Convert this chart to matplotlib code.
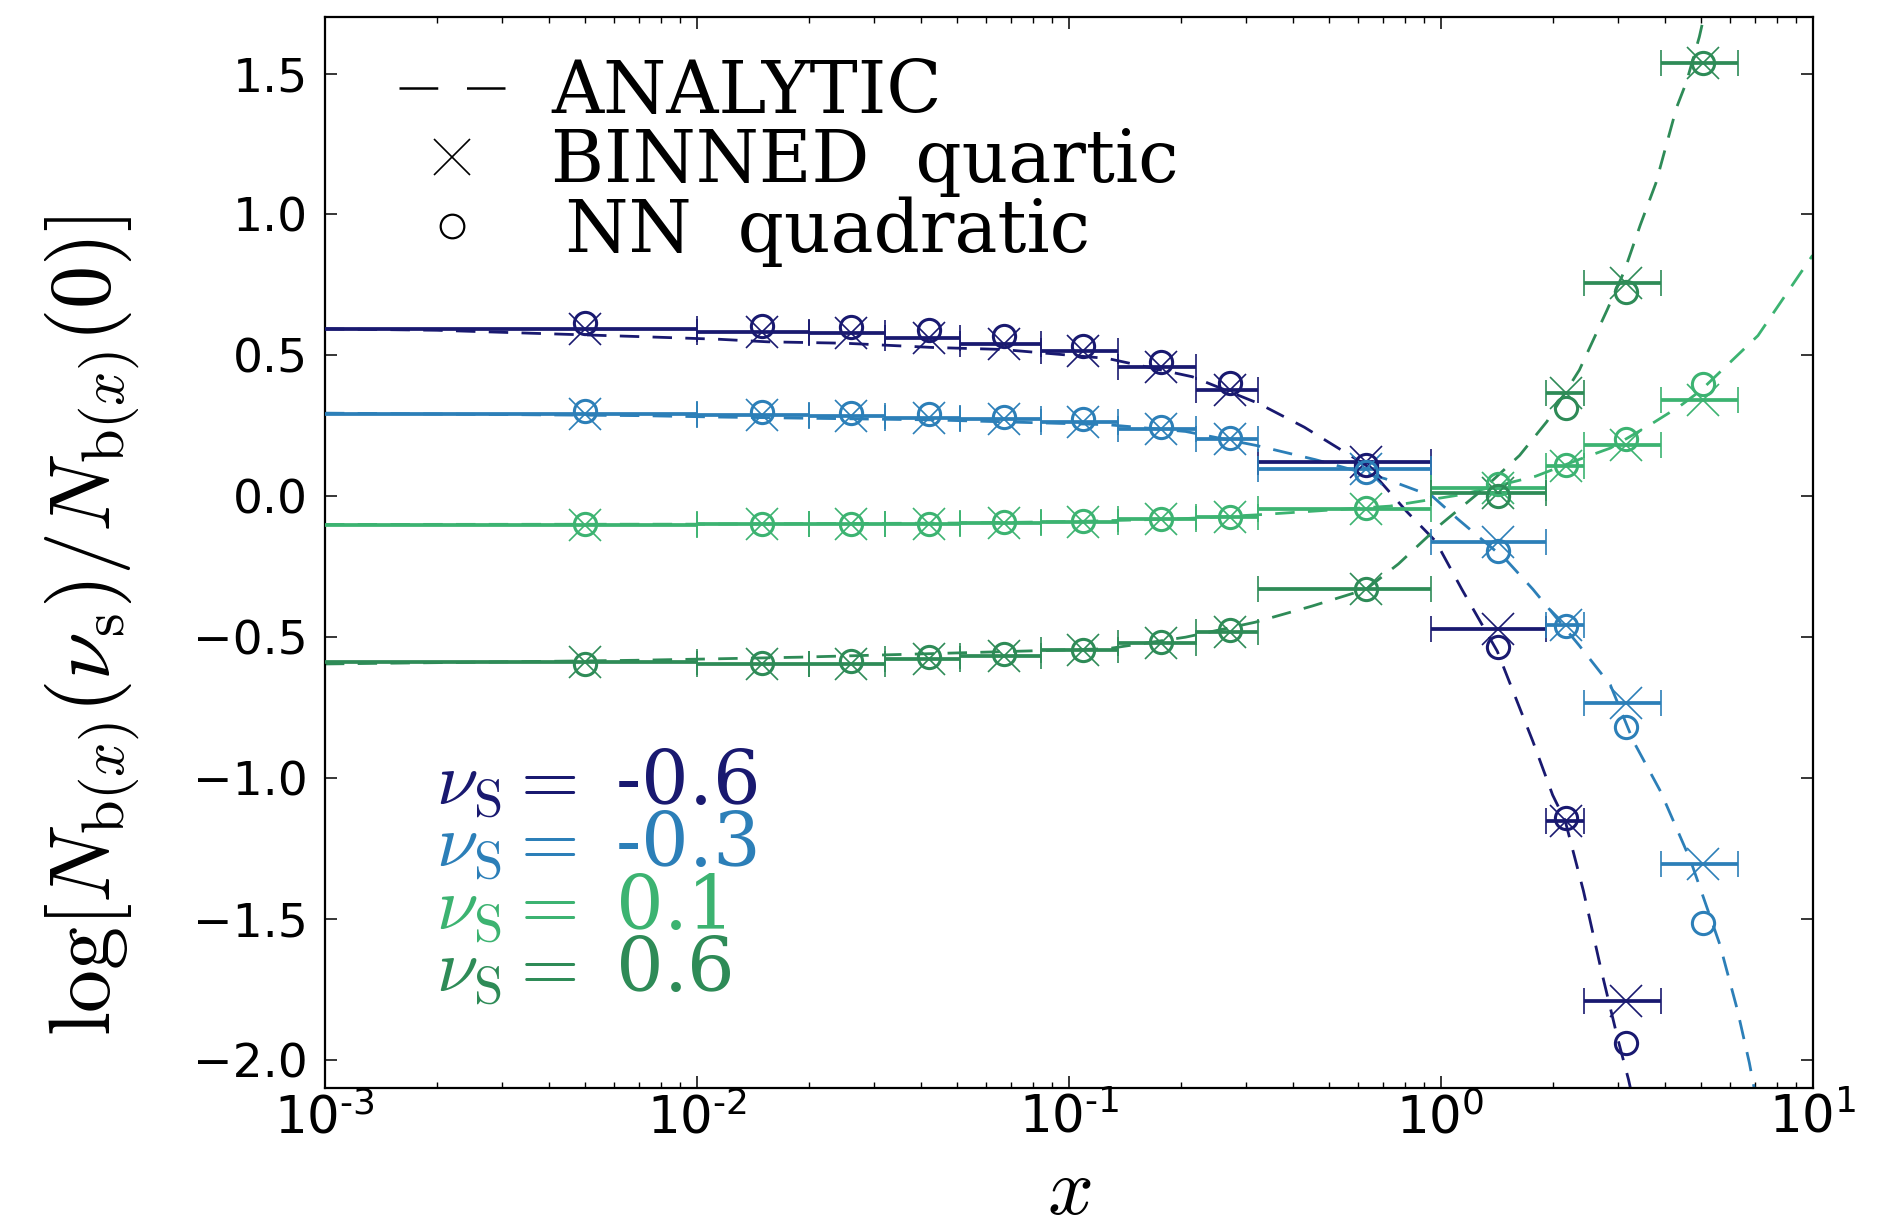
import numpy as np
import matplotlib
matplotlib.use("Agg")
import matplotlib.pyplot as plt
from matplotlib.lines import Line2D
from matplotlib.ticker import FuncFormatter, LogLocator, FixedLocator

# ---------------- data ----------------
nu_values = ["-0.6", "-0.3", "0.1", "0.6"]
colors = ["#191970", "#2c7fb8", "#3cb371", "#2e8b57"]

# bin edges and bin centres (x)
bin_lo = [0.0, 0.01, 0.02, 0.032, 0.051, 0.084, 0.136, 0.22, 0.322, 0.94, 1.92, 2.43, 3.92]
bin_hi = [0.01, 0.02, 0.032, 0.051, 0.084, 0.136, 0.22, 0.322, 0.94, 1.92, 2.43, 3.92, 6.3]
bin_x = [0.005, 0.015, 0.026, 0.042, 0.067, 0.109, 0.177, 0.271, 0.63, 1.43, 2.17, 3.15, 5.08]

# BINNED quartic values (crosses with x-error bars)
binned_m06 = [0.592, 0.582, 0.578, 0.562, 0.542, 0.515, 0.457, 0.377, 0.12, -0.472, -1.153, -1.79]
binned_m03 = [0.293, 0.289, 0.285, 0.279, 0.274, 0.265, 0.238, 0.203, 0.095, -0.162, -0.455, -0.733, -1.305]
binned_p01 = [-0.101, -0.100, -0.099, -0.098, -0.094, -0.090, -0.082, -0.074, -0.044, 0.03, 0.109, 0.183, 0.342]
binned_p06 = [-0.588, -0.594, -0.595, -0.578, -0.565, -0.547, -0.52, -0.483, -0.33, 0.012, 0.366, 0.755, 1.538]

# NN quadratic values (circles)
nn_m06 = [0.613, 0.604, 0.599, 0.59, 0.57, 0.534, 0.478, 0.403, 0.112, -0.535, -1.14, -1.94]
nn_m03 = [0.301, 0.300, 0.295, 0.292, 0.283, 0.274, 0.245, 0.206, 0.086, -0.194, -0.46, -0.819, -1.513]
nn_p01 = [-0.100, -0.100, -0.099, -0.097, -0.093, -0.089, -0.081, -0.073, -0.042, 0.042, 0.11, 0.203, 0.398]
nn_p06 = [-0.595, -0.591, -0.583, -0.57, -0.561, -0.544, -0.518, -0.475, -0.33, 0.0, 0.313, 0.725, 1.538]

# ANALYTIC curves (dashed)
an_x_m06 = [0.001, 0.002, 0.0072, 0.0115, 0.0155, 0.025, 0.043, 0.066, 0.127, 0.215, 0.323,
            0.43, 0.63, 0.81, 0.97, 1.14, 1.42, 1.77, 2.0, 2.16, 2.42, 2.7, 3.0, 3.2, 3.3]
an_y_m06 = [0.594, 0.589, 0.566, 0.557, 0.548, 0.543, 0.528, 0.521, 0.489, 0.424, 0.33,
            0.245, 0.11, -0.054, -0.16, -0.33, -0.55, -0.87, -1.06, -1.15, -1.4, -1.68, -1.93, -2.07, -2.15]
an_x_m03 = [0.001, 0.0071, 0.0115, 0.043, 0.127, 0.206, 0.32, 0.46, 0.71, 0.95, 1.11, 1.5,
            1.77, 2.36, 2.86, 3.3, 3.9, 4.69, 5.63, 6.27, 6.76, 7.2]
an_y_m03 = [0.295, 0.286, 0.281, 0.271, 0.254, 0.23, 0.18, 0.13, 0.062, 0.0, -0.08, -0.226,
            -0.33, -0.53, -0.67, -0.87, -1.047, -1.29, -1.59, -1.82, -2.01, -2.2]
an_x_p01 = [0.001, 0.01, 0.05, 0.1, 0.2, 0.32, 0.73, 1.14, 1.8, 2.35, 2.86, 3.66, 4.4, 5.0, 7.13, 10.0]
an_y_p01 = [-0.1, -0.099, -0.095, -0.09, -0.08, -0.066, -0.035, 0.006, 0.071, 0.13, 0.171,
            0.254, 0.32, 0.375, 0.57, 0.855]
an_x_p06 = [0.001, 0.0068, 0.011, 0.0188, 0.041, 0.127, 0.206, 0.317, 0.45, 0.63, 0.77, 1.0,
            1.3, 1.63, 1.93, 2.36, 2.8, 3.12, 3.44, 3.79, 4.04, 4.31, 4.58, 4.96, 5.2]
an_y_p06 = [-0.595, -0.582, -0.577, -0.571, -0.559, -0.541, -0.5, -0.447, -0.39, -0.33, -0.24, -0.1,
            0.025, 0.145, 0.265, 0.448, 0.66, 0.8, 0.962, 1.111, 1.245, 1.38, 1.47, 1.63, 1.75]

binned = [binned_m06, binned_m03, binned_p01, binned_p06]
nn = [nn_m06, nn_m03, nn_p01, nn_p06]
an_x = [an_x_m06, an_x_m03, an_x_p01, an_x_p06]
an_y = [an_y_m06, an_y_m03, an_y_p01, an_y_p06]

y_ticks = [-2.0, -1.5, -1.0, -0.5, 0.0, 0.5, 1.0, 1.5]

# ---------------- style ----------------
plt.rcParams["mathtext.fontset"] = "cm"
plt.rcParams["font.family"] = ["DejaVu Sans"]
plt.rcParams["axes.linewidth"] = 1.6

fig = plt.figure(figsize=(19, 12.24), dpi=100)
ax = fig.add_axes([0.171, 0.111, 0.783, 0.875])
ax.set_xscale("log", nonpositive="clip")

for i in range(4):
    c = colors[i]
    n = len(binned[i])
    xc = np.array(bin_x[:n])
    lo = np.array(bin_lo[:n])
    hi = np.array(bin_hi[:n])
    ax.plot(an_x[i], an_y[i], color=c, lw=2.0, dashes=(7.0, 4.8), zorder=2)
    ax.errorbar(xc, binned[i], xerr=[xc - lo, hi - xc], fmt="x", color=c,
                ms=23, mew=1.2, elinewidth=2.7, capsize=9.5, capthick=4.2, zorder=3)
    ax.plot(xc, nn[i], "o", mfc="none", mec=c, ms=16, mew=2.2, zorder=4)

ax.set_xlim(1e-3, 10)
ax.set_ylim(-2.1, 1.7)
ax.yaxis.set_major_locator(FixedLocator(y_ticks))
ax.xaxis.set_major_locator(LogLocator(base=10, numticks=10))
ax.xaxis.set_minor_locator(LogLocator(base=10, subs=np.arange(2, 10), numticks=20))


def xfmt(v, pos):
    e = int(round(np.log10(v)))
    s = str(e).replace("-", "\u2010")
    return r"$\mathdefault{10^{%s}}$" % s


ax.xaxis.set_major_formatter(FuncFormatter(xfmt))
ax.tick_params(which="both", direction="in", top=True, right=True)
ax.tick_params(which="major", length=8.6, width=1.1, labelsize=34)
ax.tick_params(which="minor", length=4.3, width=1.0)
ax.tick_params(axis="x", which="major", pad=4, labelsize=37)
ax.tick_params(axis="y", which="major", pad=12)

ax.set_ylabel(r"$\log[N_{\rm b(\mathit{x})}(\nu_{\rm s})/N_{\rm b(\mathit{x})}(0)]$", fontsize=62)
ax.yaxis.set_label_coords(-0.123, 0.431)
ax.set_xlabel(r"$x$", fontsize=58)
ax.xaxis.set_label_coords(0.5, -0.061)

# nu_S annotations
y_text = [0.264, 0.2064, 0.1475, 0.0896]
for i in range(4):
    ax.text(0.075, y_text[i], r"$\nu_{\rm S} = $ " + nu_values[i], color=colors[i],
            fontsize=54, family="DejaVu Serif", transform=ax.transAxes, ha="left", va="baseline")

# legend
handles = [
    Line2D([], [], color="k", lw=1.8, dashes=(15.5, 11.5)),
    Line2D([], [], color="k", ls="none", marker="x", ms=26, mew=1.2),
    Line2D([], [], color="k", ls="none", marker="o", ms=17, mfc="none", mew=1.6),
]
labels = ["ANALYTIC", "BINNED  quartic", "\u2009NN  quadratic"]
ax.legend(handles, labels, loc="upper left", bbox_to_anchor=(0.05, 0.962), frameon=False,
          prop={"family": "DejaVu Serif", "size": 52}, handlelength=1.47, handletextpad=0.63,
          borderpad=0, borderaxespad=0, labelspacing=-0.02, numpoints=1)

fig.savefig("out.png", dpi=100)
